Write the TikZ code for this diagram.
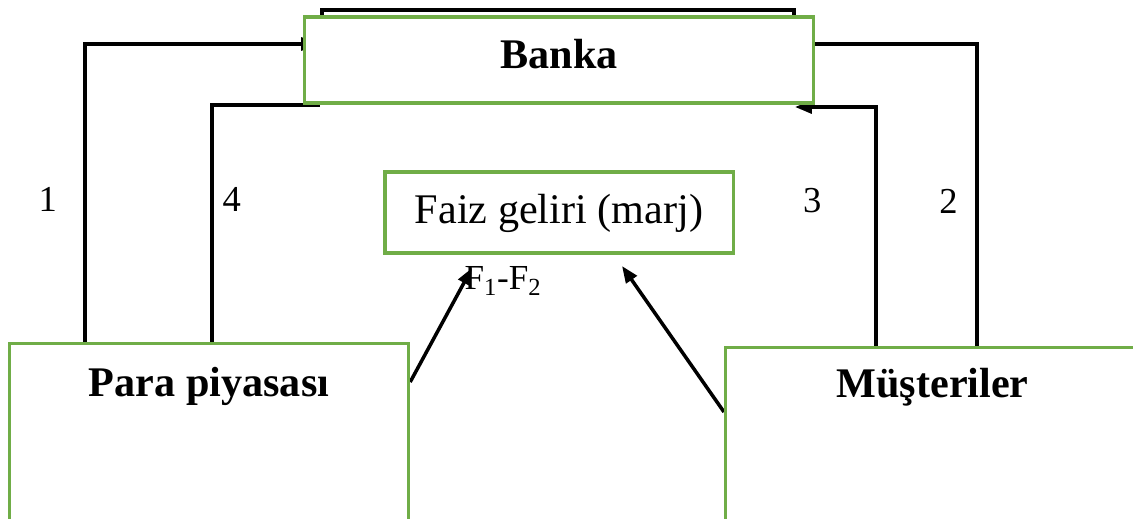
\documentclass[tikz,border=0pt]{standalone}
\usepackage{fontspec}
\setmainfont{Liberation Serif}
\usetikzlibrary{arrows.meta,backgrounds}
\definecolor{boxgreen}{RGB}{112,173,71}
\begin{document}
\begin{tikzpicture}[x=0.025cm, y=-0.025cm,
  box/.style={draw=boxgreen, line width=2.2pt, fill=white, rectangle, inner sep=0pt},
  num/.style={inner sep=0pt, font=\fontsize{26}{30}\selectfont},
  link/.style={line width=2.5pt},
  flow/.style={-{Triangle[length=0.42cm, width=0.32cm]}}]
\useasboundingbox (0,0) rectangle (1133,519);
\clip (0,0) rectangle (1133,519);
\node[box, minimum width=12.7cm, text height=1.275cm, text depth=0.875cm, font=\bfseries\fontsize{30}{36}\selectfont] (bank) at (559,60) {Banka};
\node[box, minimum width=8.7cm, text height=1.275cm, text depth=0.75cm, font=\fontsize{30}{36}\selectfont] (margin) at (559,212.5) {Faiz geliri (marj)};
\node[box, anchor=north west, minimum width=9.975cm, text height=1.325cm, text depth=6cm, font=\bfseries\fontsize{30}{36}\selectfont] (moneyMarket) at (8,342) {Para piyasası};
\node[box, anchor=north west, minimum width=10.35cm, text height=1.25cm, text depth=6cm, font=\bfseries\fontsize{30}{36}\selectfont] (customers) at (724,346) {Müşteriler};
\node(1) at (85,44) {}; \node(2) at (318,44) {}; \node(3) at (212,105) {}; \node(4) at (320,105) {}; % Empty nodes for the bends on the left.
\node(5) at (876,107) {}; \node(6) at (795,107) {}; \node(7) at (977,44) {}; % Empty nodes for the bends on the right.
\node(8) at (472,268) {}; \node(9) at (622,266) {};
\node[inner sep=0pt, font=\fontsize{25}{30}\selectfont] (spread) at (503,281) {F\textsubscript{1}-F\textsubscript{2}};
\begin{pgfonlayer}{background}
\draw[link] (322,60) rectangle (794,10); % Frame hidden behind the bank.
\draw[link, flow] (moneyMarket.north -| 1.center) -- (1.center) node[num, pos=0.48, left=0.66cm] {1} -- (2.center);
\draw[link] (moneyMarket.north -| 3.center) -- (3.center) node[num, pos=0.6, right=0.22cm] {4} -- (4.center);
\draw[link, flow] (customers.north -| 5.center) -- (5.center) node[num, pos=0.61, left=1.32cm] {3} -- (6.center);
\draw[link] (customers.north -| 7.center) -- (7.center) node[num, pos=0.48, left=0.44cm] {2} -- (bank.east |- 7.center);
\draw[link, flow] ([yshift=-1cm]moneyMarket.north east) -- (8.center);
\draw[link, flow] ([yshift=-1.65cm]customers.north west) -- (9.center);
\end{pgfonlayer}
\end{tikzpicture}
\end{document}
